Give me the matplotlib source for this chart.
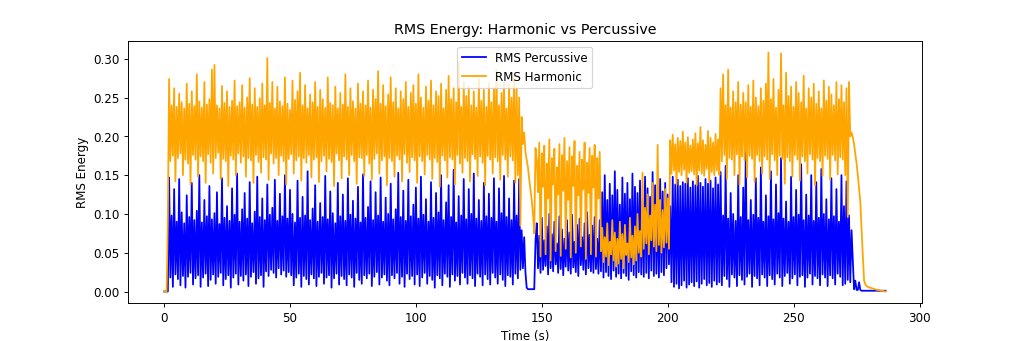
import numpy as np
import matplotlib
matplotlib.use("Agg")
import matplotlib.pyplot as plt

# RMS values, in thousandths, one value every 0.5 s
# (each row covers 10 s: peak at t, trough at t + 0.5)
FRAME_STEP = 0.5

rms_percussive_rows = [
    [0, 0, 0, 0, 147, 18, 98, 6, 132, 22, 90, 16, 145, 8, 102, 20, 88, 5, 124, 19],
    [96, 24, 140, 9, 92, 17, 104, 21, 150, 6, 89, 18, 118, 23, 97, 7, 136, 15, 93, 22],
    [101, 10, 128, 19, 87, 24, 146, 8, 95, 16, 110, 21, 91, 5, 133, 18, 99, 23, 152, 9],
    [90, 20, 106, 14, 127, 22, 94, 7, 141, 19, 88, 25, 103, 10, 148, 17, 96, 21, 120, 6],
    [92, 26, 138, 20, 99, 28, 108, 24, 144, 18, 91, 30, 126, 22, 97, 27, 150, 19, 94, 25],
    [131, 21, 100, 8, 89, 18, 143, 23, 95, 6, 122, 20, 98, 16, 155, 9, 92, 22, 107, 17],
    [137, 7, 90, 19, 114, 24, 96, 10, 149, 18, 93, 21, 129, 5, 101, 17, 88, 23, 140, 9],
    [97, 20, 125, 16, 91, 8, 146, 22, 99, 18, 117, 6, 94, 24, 135, 15, 89, 10, 151, 21],
    [95, 17, 109, 23, 142, 7, 92, 19, 128, 25, 98, 9, 147, 18, 90, 22, 121, 14, 100, 8],
    [139, 21, 93, 17, 106, 24, 153, 10, 96, 19, 130, 6, 91, 23, 144, 16, 97, 20, 112, 9],
    [134, 22, 94, 7, 148, 18, 99, 24, 119, 10, 90, 20, 141, 15, 95, 5, 127, 21, 102, 17],
    [150, 8, 92, 23, 115, 19, 137, 6, 96, 22, 157, 14, 89, 20, 123, 9, 98, 24, 145, 18],
    [93, 10, 132, 21, 100, 17, 152, 7, 94, 23, 118, 19, 91, 8, 140, 22, 97, 16, 126, 9],
    [95, 24, 146, 18, 90, 10, 133, 22, 101, 15, 149, 7, 96, 21, 120, 19, 92, 9, 143, 23],
    [98, 17, 145, 28, 79, 30, 70, 25, 5, 3, 3, 3, 3, 3, 3, 65, 88, 30, 72, 24],
    [95, 28, 66, 33, 84, 22, 100, 30, 74, 26, 90, 35, 62, 24, 97, 29, 80, 21, 68, 32],
    [92, 27, 76, 23, 99, 31, 64, 25, 86, 20, 94, 34, 70, 28, 88, 22, 102, 30, 73, 26],
    [85, 24, 96, 29, 68, 23, 92, 26, 128, 18, 150, 25, 118, 20, 139, 16, 124, 27, 155, 19],
    [131, 23, 112, 17, 147, 24, 126, 20, 140, 15, 119, 26, 152, 21, 135, 18, 127, 25, 143, 22],
    [116, 19, 148, 24, 133, 17, 122, 27, 154, 20, 137, 23, 118, 18, 145, 25, 129, 21, 140, 30],
    [125, 35, 110, 12, 148, 6, 138, 10, 144, 4, 136, 8, 141, 14, 139, 5, 146, 9, 134, 12],
    [142, 7, 137, 13, 149, 5, 140, 10, 135, 16, 145, 8, 139, 11, 143, 6, 133, 14, 147, 9],
    [138, 12, 154, 8, 98, 20, 162, 16, 94, 6, 127, 22, 100, 18, 91, 7, 150, 21, 96, 15],
    [134, 9, 180, 19, 92, 23, 118, 6, 99, 20, 146, 17, 95, 8, 160, 22, 90, 18, 124, 7],
    [97, 21, 155, 16, 93, 9, 138, 23, 101, 18, 172, 7, 94, 20, 116, 24, 90, 10, 148, 17],
    [96, 22, 131, 8, 99, 19, 164, 21, 92, 6, 125, 18, 98, 23, 150, 9, 91, 20, 141, 17],
    [95, 8, 158, 22, 100, 18, 119, 7, 93, 21, 146, 17, 97, 9, 132, 23, 90, 19, 150, 8],
    [110, 10, 142, 15, 98, 12, 79, 40, 3, 14, 2, 2, 12, 2, 1, 1, 1, 1, 1, 1],
    [1, 1, 1, 1, 1, 1, 1, 1, 1, 1, 1, 1, 1, 1],
]

rms_harmonic_rows = [
    [0, 0, 0, 92, 274, 168, 240, 175, 262, 142, 238, 172, 255, 178, 244, 150, 236, 170, 268, 165],
    [242, 138, 258, 176, 239, 170, 280, 148, 245, 174, 237, 168, 270, 140, 241, 177, 248, 166, 286, 152],
    [292, 172, 240, 179, 236, 145, 265, 171, 243, 168, 258, 136, 238, 175, 246, 170, 272, 150, 239, 178],
    [244, 166, 266, 174, 237, 148, 250, 172, 275, 169, 241, 140, 262, 176, 238, 167, 249, 153, 268, 173],
    [240, 170, 301, 144, 243, 178, 270, 165, 236, 172, 264, 150, 245, 175, 239, 168, 276, 138, 242, 171],
    [234, 177, 272, 152, 247, 169, 258, 174, 282, 143, 240, 172, 266, 166, 236, 176, 254, 147, 244, 170],
    [270, 173, 238, 141, 260, 168, 248, 175, 237, 155, 276, 171, 243, 167, 240, 136, 264, 178, 236, 169],
    [256, 146, 241, 174, 280, 170, 238, 150, 262, 176, 245, 168, 236, 139, 268, 173, 242, 172, 258, 149],
    [240, 176, 272, 165, 237, 144, 260, 171, 248, 178, 284, 152, 242, 169, 266, 174, 239, 137, 254, 172],
    [276, 168, 244, 148, 262, 175, 236, 170, 258, 142, 248, 177, 270, 166, 238, 154, 256, 173, 266, 169],
    [242, 140, 280, 174, 250, 168, 237, 151, 264, 176, 246, 170, 272, 145, 240, 172, 258, 167, 252, 135],
    [268, 175, 236, 169, 260, 147, 278, 173, 248, 170, 262, 138, 244, 176, 296, 165, 238, 153, 270, 172],
    [252, 168, 264, 142, 240, 177, 258, 171, 237, 149, 274, 174, 246, 166, 260, 137, 238, 175, 268, 170],
    [244, 152, 262, 173, 286, 168, 240, 144, 256, 176, 270, 170, 236, 148, 266, 174, 250, 169, 278, 140],
    [262, 150, 250, 85, 225, 190, 205, 180, 170, 160, 145, 132, 118, 100, 75, 185, 170, 128, 192, 45],
    [178, 135, 188, 48, 165, 120, 196, 40, 172, 138, 184, 52, 160, 125, 190, 46, 176, 130, 198, 55],
    [168, 118, 186, 44, 174, 136, 194, 50, 162, 124, 180, 58, 170, 132, 192, 42, 166, 127, 185, 48],
    [175, 134, 189, 45, 172, 120, 180, 52, 82, 38, 70, 45, 88, 34, 64, 48, 92, 40, 76, 32],
    [68, 36, 90, 42, 74, 30, 86, 47, 62, 38, 95, 44, 72, 35, 84, 40, 100, 50, 78, 45],
    [153, 55, 108, 62, 125, 48, 98, 66, 140, 58, 112, 52, 189, 60, 118, 50, 105, 57, 132, 63],
    [120, 55, 195, 152, 202, 156, 190, 138, 198, 154, 194, 150, 206, 157, 192, 140, 199, 153, 188, 155],
    [196, 151, 204, 137, 191, 156, 212, 152, 195, 149, 189, 158, 207, 141, 198, 154, 192, 150, 203, 156],
    [196, 150, 262, 168, 280, 176, 240, 145, 286, 172, 237, 170, 258, 150, 244, 177, 270, 138, 241, 174],
    [256, 169, 244, 147, 266, 175, 238, 171, 272, 141, 250, 176, 239, 168, 262, 152, 246, 174, 268, 170],
    [308, 145, 248, 177, 274, 169, 237, 150, 260, 175, 307, 171, 240, 139, 282, 173, 252, 168, 264, 148],
    [238, 176, 270, 170, 256, 143, 244, 174, 278, 168, 236, 152, 262, 177, 250, 170, 268, 137, 242, 172],
    [258, 168, 236, 149, 272, 175, 246, 171, 264, 144, 254, 176, 240, 169, 270, 151, 248, 173, 266, 170],
    [244, 150, 262, 96, 270, 200, 205, 199, 190, 178, 165, 150, 132, 115, 80, 45, 14, 9, 7, 6],
    [5, 5, 4, 4, 3, 3, 2, 2, 2, 1, 1, 1, 0, 0],
]

for rows in (rms_percussive_rows, rms_harmonic_rows):
    assert all(len(r) == 20 for r in rows[:-1])

rms_percussive = np.concatenate(rms_percussive_rows) / 1000.0
rms_harmonic = np.concatenate(rms_harmonic_rows) / 1000.0
times = np.arange(len(rms_percussive)) * FRAME_STEP

fig, ax = plt.subplots(figsize=(12, 4))
ax.plot(times, rms_percussive, color='blue', label='RMS Percussive')
ax.plot(times, rms_harmonic, color='orange', label='RMS Harmonic')
ax.set_title('RMS Energy: Harmonic vs Percussive')
ax.set_xlabel('Time (s)')
ax.set_ylabel('RMS Energy')
ax.legend(loc='upper center')

fig.savefig('out.png', dpi=1024 / 12)
